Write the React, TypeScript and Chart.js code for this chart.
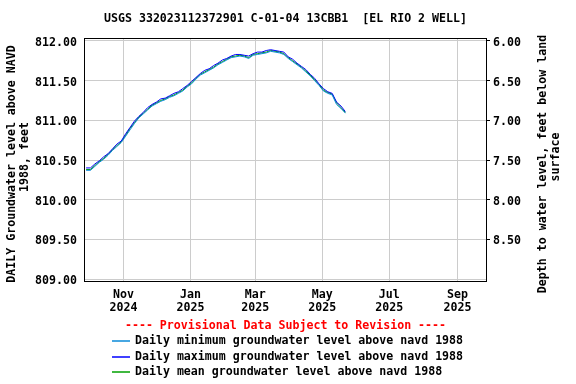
import React, { useEffect, useRef } from 'react';
import { Chart, registerables } from 'chart.js';

Chart.register(...registerables);

const FONT = '"DejaVu Sans Mono", "Liberation Mono", monospace';
const FONT_SIZE = 11.6;

const titleText = 'USGS 332023112372901 C-01-04 13CBB1  [EL RIO 2 WELL]';
const leftAxisTitle = ['DAILY Groundwater level above NAVD', '1988, feet'];
const rightAxisTitle = ['Depth to water level, feet below land', 'surface'];
const provisionalText = '---- Provisional Data Subject to Revision ----';
const legendLabels = [
  'Daily minimum groundwater level above navd 1988',
  'Daily maximum groundwater level above navd 1988',
  'Daily mean groundwater level above navd 1988',
];
const seriesColors = ['#0a8ad8', '#0000ff', '#00a000'];

// days since 2024-11-01
const days = [
  -34, -30, -26, -22, -18, -14, -10, -6, -2, 2,
  6, 10, 14, 18, 22, 26, 30, 34, 38, 42,
  46, 50, 54, 58, 62, 66, 70, 74, 78, 82,
  86, 90, 94, 98, 102, 106, 110, 114, 118, 122,
  126, 130, 134, 138, 142, 146, 150, 154, 158, 162,
  166, 170, 174, 178, 182, 186, 190, 194, 198, 202,
];

const meanLevel = [
  810.38, 810.38, 810.43, 810.48, 810.52, 810.57, 810.63, 810.68, 810.73, 810.81,
  810.90, 810.97, 811.04, 811.09, 811.14, 811.19, 811.22, 811.25, 811.27, 811.30,
  811.32, 811.35, 811.38, 811.43, 811.47, 811.53, 811.58, 811.61, 811.64, 811.67,
  811.71, 811.74, 811.77, 811.80, 811.81, 811.82, 811.81, 811.79, 811.83, 811.84,
  811.85, 811.86, 811.88, 811.87, 811.86, 811.84, 811.79, 811.75, 811.71, 811.67,
  811.62, 811.57, 811.51, 811.45, 811.38, 811.35, 811.33, 811.22, 811.16, 811.10,
];

const maxLevel = [
  810.40, 810.40, 810.45, 810.49, 810.54, 810.58, 810.64, 810.70, 810.74, 810.83,
  810.91, 810.99, 811.05, 811.10, 811.16, 811.20, 811.23, 811.27, 811.28, 811.31,
  811.34, 811.36, 811.40, 811.44, 811.49, 811.54, 811.59, 811.63, 811.65, 811.69,
  811.72, 811.76, 811.78, 811.81, 811.83, 811.83, 811.82, 811.81, 811.84, 811.86,
  811.86, 811.88, 811.89, 811.88, 811.87, 811.86, 811.80, 811.77, 811.72, 811.68,
  811.64, 811.58, 811.53, 811.46, 811.40, 811.36, 811.34, 811.23, 811.18, 811.11,
];

const minLevel = [
  810.37, 810.37, 810.42, 810.47, 810.51, 810.56, 810.62, 810.67, 810.72, 810.80,
  810.88, 810.96, 811.03, 811.08, 811.13, 811.18, 811.21, 811.24, 811.26, 811.29,
  811.31, 811.34, 811.37, 811.42, 811.46, 811.52, 811.57, 811.60, 811.63, 811.66,
  811.70, 811.73, 811.76, 811.79, 811.80, 811.81, 811.80, 811.78, 811.82, 811.83,
  811.84, 811.85, 811.87, 811.86, 811.85, 811.83, 811.78, 811.74, 811.70, 811.66,
  811.61, 811.56, 811.50, 811.44, 811.37, 811.34, 811.32, 811.20, 811.15, 811.09,
];

const tickDays = [0, 61, 120, 181, 242, 304];
const tickMonths = ['Nov', 'Jan', 'Mar', 'May', 'Jul', 'Sep'];
const tickYears = ['2024', '2025', '2025', '2025', '2025', '2025'];
const leftTicks = [809.0, 809.5, 810.0, 810.5, 811.0, 811.5, 812.0];
const rightTicks = [6.0, 6.5, 7.0, 7.5, 8.0, 8.5];

const X_MIN = -35;
const X_MAX = 330;
const Y_MIN = 808.975;
const Y_MAX = 812.025;
const LAND_SURFACE = 818.0;

const font = (size = FONT_SIZE) => `bold ${size}px ${FONT}`;

const overlayPlugin = {
  id: 'overlay',
  afterDraw(chart: any) {
    const ctx = chart.ctx as CanvasRenderingContext2D;
    const a = chart.chartArea;
    ctx.save();
    ctx.setLineDash([]);
    // frame
    ctx.strokeStyle = '#000';
    ctx.lineWidth = 1;
    ctx.strokeRect(Math.round(a.left) - 0.5, Math.round(a.top) - 0.5, Math.round(a.right - a.left) + 1, Math.round(a.bottom - a.top) + 1);

    ctx.fillStyle = '#000';
    ctx.font = font();
    ctx.textBaseline = 'middle';
    ctx.textAlign = 'center';
    const cx = (a.left + a.right) / 2;
    ctx.fillText(titleText, cx, 19);

    // left axis title
    ctx.save();
    ctx.translate(12, 164);
    ctx.rotate(-Math.PI / 2);
    ctx.fillText(leftAxisTitle[0], 0, 0);
    ctx.restore();
    ctx.save();
    ctx.translate(25, 157);
    ctx.rotate(-Math.PI / 2);
    ctx.fillText(leftAxisTitle[1], 0, 0);
    ctx.restore();

    // right axis title
    ctx.save();
    ctx.translate(543, 164);
    ctx.rotate(-Math.PI / 2);
    ctx.fillText(rightAxisTitle[0], 0, 0);
    ctx.restore();
    ctx.save();
    ctx.translate(556, 157);
    ctx.rotate(-Math.PI / 2);
    ctx.fillText(rightAxisTitle[1], 0, 0);
    ctx.restore();

    // provisional
    ctx.fillStyle = '#ff0000';
    ctx.fillText(provisionalText, cx, 326);

    // legend
    ctx.textAlign = 'left';
    const rows = [341, 357, 372];
    legendLabels.forEach((label, i) => {
      ctx.strokeStyle = seriesColors[i];
      ctx.lineWidth = 1.5;
      ctx.beginPath();
      ctx.moveTo(112, rows[i]);
      ctx.lineTo(130, rows[i]);
      ctx.stroke();
      ctx.fillStyle = '#000';
      ctx.fillText(label, 135, rows[i]);
    });
    ctx.restore();
  },
};

export default function App() {
  const ref = useRef<HTMLCanvasElement | null>(null);

  useEffect(() => {
    if (!ref.current) return;
    const mk = (vals: number[]) => days.map((d, i) => ({ x: d, y: vals[i] }));
    const chart = new Chart(ref.current, {
      type: 'line',
      data: {
        datasets: [
          { label: legendLabels[0], data: mk(minLevel), borderColor: seriesColors[0], borderWidth: 1, pointRadius: 0, tension: 0, yAxisID: 'y' },
          { label: legendLabels[1], data: mk(maxLevel), borderColor: seriesColors[1], borderWidth: 1, pointRadius: 0, tension: 0, yAxisID: 'y' },
          { label: legendLabels[2], data: mk(meanLevel), borderColor: seriesColors[2], borderWidth: 1, pointRadius: 0, tension: 0, yAxisID: 'y' },
        ],
      },
      options: {
        animation: false,
        responsive: false,
        events: [],
        layout: { padding: { top: 39, left: 0, right: 0, bottom: 0 } },
        plugins: { legend: { display: false }, tooltip: { enabled: false }, title: { display: false } },
        scales: {
          x: {
            type: 'linear',
            min: X_MIN,
            max: X_MAX,
            border: { display: false },
            grid: { color: '#cccccc', drawTicks: false, lineWidth: 1 },
            afterBuildTicks: (scale: any) => {
              scale.ticks = tickDays.map((v) => ({ value: v }));
            },
            afterFit: (scale: any) => {
              scale.height = 103;
            },
            ticks: {
              color: '#000',
              padding: 8,
              maxRotation: 0,
              autoSkip: false,
              font: { family: FONT, size: FONT_SIZE, weight: 'bold', lineHeight: 1.1 },
              callback: (v: any) => {
                const i = tickDays.indexOf(Number(v));
                return i >= 0 ? [tickMonths[i], tickYears[i]] : '';
              },
            },
          },
          y: {
            type: 'linear',
            position: 'left',
            min: Y_MIN,
            max: Y_MAX,
            border: { display: false },
            grid: { color: '#cccccc', drawTicks: false, lineWidth: 1 },
            afterBuildTicks: (scale: any) => {
              scale.ticks = leftTicks.map((v) => ({ value: v }));
            },
            afterFit: (scale: any) => {
              scale.width = 85;
            },
            ticks: {
              color: '#000',
              padding: 8,
              labelOffset: 2,
              font: { family: FONT, size: FONT_SIZE, weight: 'bold' },
              callback: (v: any) => Number(v).toFixed(2),
            },
          },
          y2: {
            type: 'linear',
            position: 'right',
            reverse: true,
            min: LAND_SURFACE - Y_MAX,
            max: LAND_SURFACE - Y_MIN,
            border: { display: false },
            grid: { drawOnChartArea: false, color: '#000000', tickColor: '#000000', tickLength: 4 },
            afterBuildTicks: (scale: any) => {
              scale.ticks = rightTicks.map((v) => ({ value: v }));
            },
            afterFit: (scale: any) => {
              scale.width = 90;
            },
            ticks: {
              color: '#000',
              padding: 3,
              labelOffset: 2,
              font: { family: FONT, size: FONT_SIZE, weight: 'bold' },
              callback: (v: any) => Number(v).toFixed(2),
            },
          },
        },
      },
      plugins: [overlayPlugin],
    } as any);
    return () => chart.destroy();
  }, []);

  return (
    <div style={{ position: 'absolute', left: 0, top: 0, width: 576, height: 384, background: '#fff' }}>
      <canvas ref={ref} width={576} height={384} style={{ display: 'block', width: 576, height: 384 }} />
    </div>
  );
}
